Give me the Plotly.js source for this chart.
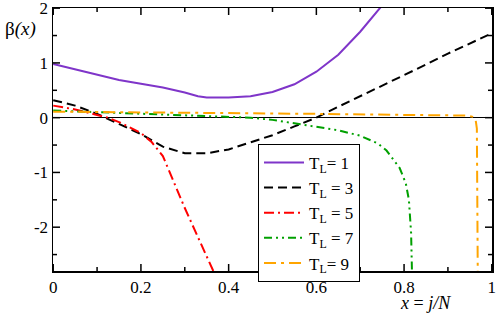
<!DOCTYPE html>
<html>
<head>
<meta charset="utf-8">
<script src="https://cdn.plot.ly/plotly-3.0.1.min.js"></script>
<style>
html,body{margin:0;padding:0;background:#fff;}
#chart{width:498px;height:317px;}
#chart svg text, #chart svg tspan { font-family: "Liberation Serif", serif !important; fill: #000 !important; }
</style>
</head>
<body>
<div id="chart"></div>
<script>
const seriesNames = ["T<sub>L</sub>= 1", "T<sub>L</sub> = 3", "T<sub>L</sub> = 5", "T<sub>L</sub> = 7", "T<sub>L</sub>= 9"];

const x1 = [0, 0.05, 0.1, 0.15, 0.2, 0.25, 0.3, 0.33, 0.35, 0.4, 0.45, 0.5, 0.55, 0.6, 0.65, 0.7, 0.75, 0.8];
const y1 = [0.98, 0.88, 0.78, 0.69, 0.62, 0.55, 0.46, 0.39, 0.37, 0.37, 0.39, 0.47, 0.61, 0.84, 1.15, 1.57, 2.05, 2.55];

const x3 = [0, 0.05, 0.1, 0.15, 0.2, 0.25, 0.3, 0.35, 0.4, 0.45, 0.5, 0.55, 0.6, 0.65, 0.7, 0.75, 0.8, 0.85, 0.9, 0.95, 1.0];
const y3 = [0.32, 0.22, 0.07, -0.12, -0.3, -0.53, -0.65, -0.65, -0.58, -0.45, -0.32, -0.16, 0.0, 0.2, 0.39, 0.58, 0.78, 0.97, 1.17, 1.36, 1.54];

const x5 = [0, 0.05, 0.1, 0.125, 0.15, 0.2, 0.225, 0.25, 0.3, 0.35, 0.365];
const y5 = [0.22, 0.15, 0.05, 0.0, -0.08, -0.28, -0.45, -0.7, -1.65, -2.54, -2.8];

const x7 = [0, 0.1, 0.2, 0.3, 0.4, 0.45, 0.5, 0.55, 0.6, 0.65, 0.7, 0.74, 0.76, 0.775, 0.79, 0.804, 0.811, 0.816, 0.818];
const y7 = [0.13, 0.1, 0.07, 0.04, 0.01, 0.0, -0.04, -0.1, -0.16, -0.23, -0.33, -0.47, -0.6, -0.75, -0.92, -1.2, -1.5, -2.1, -2.8];

const x9 = [0, 0.2, 0.4, 0.6, 0.8, 0.94, 0.955, 0.963, 0.966, 0.967, 0.968];
const y9 = [0.11, 0.1, 0.09, 0.07, 0.05, 0.04, 0.02, -0.03, -0.2, -1.0, -2.8];

const xTicks = [0, 0.2, 0.4, 0.6, 0.8, 1];
const xTickText = ["0", "0.2", "0.4", "0.6", "0.8", "1"];
const xMinorTicks = [0.1, 0.3, 0.5, 0.7, 0.9];
const yTicks = [-2, -1, 0, 1, 2];
const yTickText = ["-2", "-1", "0", "1", "2"];
const yMinorTicks = [-2.5, -1.5, -0.5, 0.5, 1.5];

const fontFam = "Liberation Serif";
const xRange = [-0.0005, 1.0005];
const yRange = [-2.8, 2.003];

// plot-area size in pixels (used only to turn tick lengths into paper fractions)
const W = 498, H = 317, ML = 53, MR = 6, MT = 8, MB = 46;
const PW = W - ML - MR, PH = H - MT - MB;
const majLen = 7, minLen = 4;

const traces = [
  {x: x1, y: y1, name: seriesNames[0], mode: "lines", line: {color: "#7f35c9", width: 2}},
  {x: x3, y: y3, name: seriesNames[1], mode: "lines", line: {color: "black", width: 2, dash: "9px,5px"}},
  {x: x5, y: y5, name: seriesNames[2], mode: "lines", line: {color: "red", width: 2, dash: "10px,4px,2px,4px"}},
  {x: x7, y: y7, name: seriesNames[3], mode: "lines", line: {color: "#00a000", width: 2, dash: "8px,4px,2px,4px,2px,4px"}},
  {x: x9, y: y9, name: seriesNames[4], mode: "lines", line: {color: "orange", width: 2, dash: "12px,5px,3px,5px"}}
];

// tick marks on all four sides, placed through the axes' own scales
const tickShapes = [];
function xTick(v, len) {
  const f = len / PH;
  tickShapes.push({type: "line", xref: "x", yref: "paper", x0: v, x1: v, y0: 0, y1: f, line: {color: "black", width: 1.5}});
  tickShapes.push({type: "line", xref: "x", yref: "paper", x0: v, x1: v, y0: 1 - f, y1: 1, line: {color: "black", width: 1.5}});
}
function yTick(v, len) {
  const f = len / PW;
  tickShapes.push({type: "line", xref: "paper", yref: "y", x0: 0, x1: f, y0: v, y1: v, line: {color: "black", width: 1.5}});
  tickShapes.push({type: "line", xref: "paper", yref: "y", x0: 1 - f, x1: 1, y0: v, y1: v, line: {color: "black", width: 1.5}});
}
xTicks.forEach(v => xTick(v, majLen));
xMinorTicks.forEach(v => xTick(v, minLen));
yTicks.forEach(v => yTick(v, majLen));
yMinorTicks.forEach(v => yTick(v, minLen));

const layout = {
  width: W, height: H,
  margin: {l: ML, r: MR, t: MT, b: MB},
  showlegend: true,
  xaxis: {
    range: xRange, tickmode: "array", tickvals: xTicks, ticktext: xTickText,
    showgrid: false, zeroline: false, showline: true, linecolor: "black", linewidth: 1.5,
    mirror: true, ticks: "", tickfont: {family: fontFam, size: 17}
  },
  yaxis: {
    range: yRange, tickmode: "array", tickvals: yTicks, ticktext: yTickText,
    showgrid: false, zeroline: true, zerolinecolor: "black", zerolinewidth: 1.5,
    showline: true, linecolor: "black", linewidth: 1.5, ticklabeloverflow: "allow",
    mirror: true, ticks: "", tickfont: {family: fontFam, size: 17}
  },
  shapes: tickShapes,
  legend: {
    x: 0.467, y: 0.483, xanchor: "left", yanchor: "top",
    bgcolor: "white", bordercolor: "black", borderwidth: 1,
    font: {family: fontFam, size: 17},
    itemwidth: 40, tracegroupgap: 0
  },
  annotations: [
    {xref: "paper", yref: "paper", x: -0.114, y: 0.92, xanchor: "left", yanchor: "middle",
     text: "β<i>(x)</i>", showarrow: false, font: {family: fontFam, size: 19}},
    {xref: "paper", yref: "paper", x: 0.787, y: -0.122, xanchor: "left", yanchor: "middle",
     text: "<i>x</i> = <i>j/N</i>", showarrow: false, font: {family: fontFam, size: 18}}
  ]
};

Plotly.newPlot("chart", traces, layout, {displayModeBar: false, staticPlot: true});
</script>
</body>
</html>
